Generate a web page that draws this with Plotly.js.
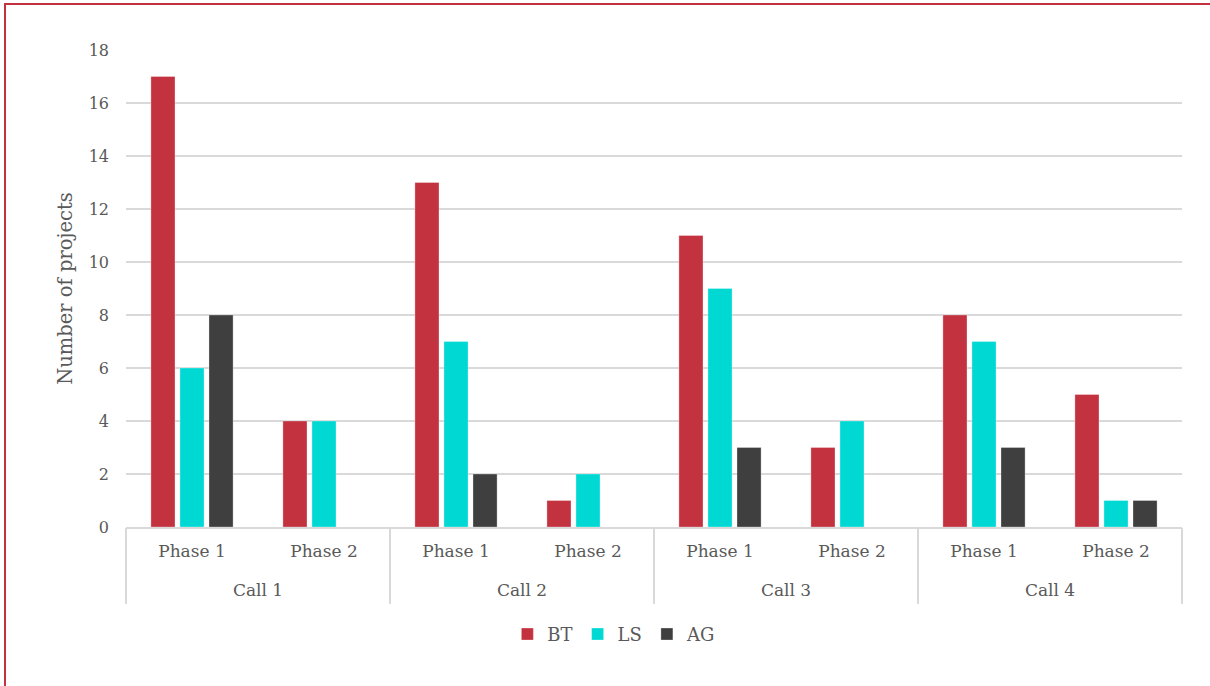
<!DOCTYPE html>
<html>
<head>
<meta charset="utf-8">
<script src="https://cdn.plot.ly/plotly-3.0.1.min.js"></script>
<style>
  html, body { margin: 0; padding: 0; background: #ffffff; }
  #wrap { position: relative; width: 1210px; height: 686px; overflow: hidden; }
  #chart { position: absolute; left: 0; top: 0; width: 1210px; height: 686px; }
  #frame { position: absolute; left: 4px; top: 3px; width: 1300px; height: 800px;
           border-left: 2px solid #C3323F; border-top: 2px solid #C3323F; pointer-events: none; }
</style>
</head>
<body>
<div id="wrap">
  <div id="chart"></div>
  <div id="frame"></div>
</div>
<script>
// Calls and phases (two-level category axis)
const callNames = ["Call 1", "Call 2", "Call 3", "Call 4"];
const calls  = ["Call 1", "Call 1", "Call 2", "Call 2", "Call 3", "Call 3", "Call 4", "Call 4"];
const phases = ["Phase 1", "Phase 2", "Phase 1", "Phase 2", "Phase 1", "Phase 2", "Phase 1", "Phase 2"];

// Number of projects per series
const seriesNames = ["BT", "LS", "AG"];
const btValues = [17, 4, 13, 1, 11, 3, 8, 5];
const lsValues = [6, 4, 7, 2, 9, 4, 7, 1];
const agValues = [8, 0, 2, 0, 3, 0, 3, 1];
const seriesColors = ["#C3323F", "#00D9D3", "#3F3F3F"];

const FONT = "DejaVu Serif, Liberation Serif, serif";
const TEXT = "#595959";
const RULE = "#D9D9D9";

// one category per call/phase pair; the phase name is shown as its tick label
const slots = calls.map((c, i) => c + " / " + phases[i]);

const traces = [btValues, lsValues, agValues].map((vals, i) => ({
  type: "bar",
  name: seriesNames[i],
  x: slots,
  y: vals,
  marker: { color: seriesColors[i], line: { color: "rgba(255,255,255,0.5)", width: 0.6 } },
  hoverinfo: "x+y+name"
}));

// empty traces so the two helper axes of the outer (call) level get drawn
["x2", "x3"].forEach(ax => traces.push({
  type: "scatter", mode: "markers", x: [], y: [],
  xaxis: ax, yaxis: "y", showlegend: false, hoverinfo: "skip"
}));

// call boundaries at 0..n, call labels at the middle of each call
const callBounds = callNames.map((_, i) => i).concat([callNames.length]);
const callMiddles = callNames.map((_, i) => i + 0.5);

const layout = {
  width: 1210,
  height: 686,
  margin: { l: 126, r: 28, t: 50, b: 159 },
  paper_bgcolor: "#ffffff",
  plot_bgcolor: "#ffffff",
  barmode: "group",
  bargap: 0.34,
  bargroupgap: 0.17,
  font: { family: FONT, color: TEXT, size: 17 },
  showlegend: true,
  legend: {
    orientation: "h",
    x: 0.462, xanchor: "center",
    y: -0.225, yanchor: "middle",
    font: { family: FONT, size: 18, color: TEXT },
    itemwidth: 30,
    traceorder: "normal"
  },
  // phase labels
  xaxis: {
    type: "category",
    categoryorder: "array",
    categoryarray: slots,
    tickvals: slots,
    ticktext: phases,
    range: [-0.5, slots.length - 0.5],
    showline: true,
    linecolor: RULE,
    linewidth: 2,
    showgrid: false,
    ticks: "",
    ticklabelstandoff: 8,
    tickfont: { family: FONT, size: 17, color: TEXT },
    fixedrange: true
  },
  // separators between calls
  xaxis2: {
    type: "linear",
    overlaying: "x",
    anchor: "y",
    side: "bottom",
    range: [0, callNames.length],
    tickmode: "array",
    tickvals: callBounds,
    showgrid: false,
    showline: false,
    zeroline: false,
    ticks: "outside",
    ticklen: 76,
    tickwidth: 2,
    tickcolor: RULE,
    showticklabels: false,
    fixedrange: true
  },
  // call labels
  xaxis3: {
    type: "linear",
    overlaying: "x",
    anchor: "y",
    side: "bottom",
    range: [0, callNames.length],
    tickmode: "array",
    tickvals: callMiddles,
    ticktext: callNames,
    showgrid: false,
    showline: false,
    zeroline: false,
    ticks: "",
    ticklabelstandoff: 51,
    tickfont: { family: FONT, size: 17, color: TEXT },
    fixedrange: true
  },
  yaxis: {
    range: [0, 18],
    dtick: 2,
    tick0: 0,
    showgrid: true,
    gridcolor: RULE,
    gridwidth: 1.5,
    zeroline: false,
    showline: false,
    ticks: "",
    ticklabelstandoff: 16,
    tickfont: { family: FONT, size: 16, color: TEXT },
    title: { text: "Number of projects", standoff: 10, font: { family: FONT, size: 19.5, color: TEXT } },
    fixedrange: true
  }
};

Plotly.newPlot("chart", traces, layout, { displayModeBar: false, staticPlot: true });
</script>
</body>
</html>
